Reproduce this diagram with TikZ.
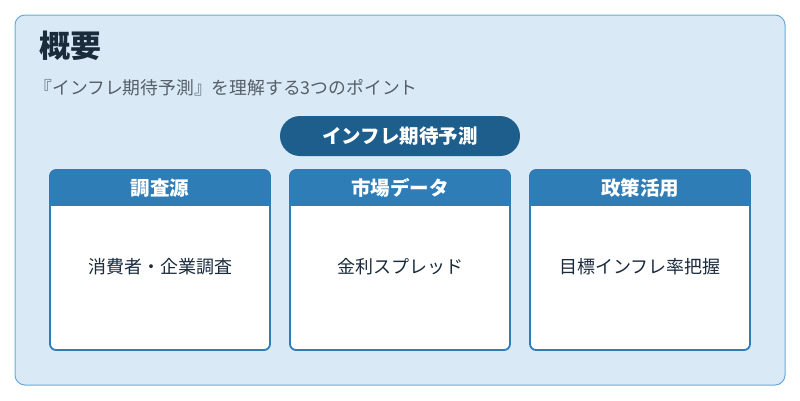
\documentclass[tikz,border=0pt]{standalone}
\usepackage{fontspec}
\setmainfont{Noto Sans CJK JP}
\definecolor{bgc}{HTML}{D9EAF6}
\definecolor{bdc}{HTML}{6AAAD6}
\definecolor{pillc}{HTML}{1D5E8C}
\definecolor{hdc}{HTML}{2E7DB6}
\definecolor{ttl}{HTML}{1A2B3C}
\definecolor{sub}{HTML}{555F6A}
\tikzset{
  cardbody/.style={draw=hdc,line width=1.8pt,fill=white,rounded corners=6pt},
  hdtext/.style={text=white,font=\bfseries\fontsize{19.5}{22}\selectfont},
  bodytext/.style={text=ttl,font=\fontsize{18}{21}\selectfont}
}
\begin{document}
\begin{tikzpicture}[x=1pt,y=-1pt]
\useasboundingbox (0,0) rectangle (800,400);
\fill[white] (0,0) rectangle (800,400);
\draw[draw=bdc,fill=bgc,line width=1pt,rounded corners=10pt] (15,15) rectangle (785,385);
\node[anchor=west,text=ttl,font=\bfseries\fontsize{31}{36}\selectfont] (title) at (36,46) {概要};
\node[anchor=west,text=sub,font=\fontsize{17.8}{21}\selectfont] (subtitle) at (31,88) {『インフレ期待予測』を理解する3つのポイント};
\fill[pillc,rounded corners=20pt] (280,116) rectangle (520,156);
\node[text=white,font=\bfseries\fontsize{19.5}{22}\selectfont] (pill) at (400,136) {インフレ期待予測};
\foreach \x/\h/\b/\n in {50/調査源/消費者・企業調査/a,290/市場データ/金利スプレッド/b,530/政策活用/目標インフレ率把握/c}{
  \draw[cardbody] (\x,170) rectangle (\x+220,350);
  \begin{scope}
    \clip[rounded corners=6pt] (\x,170) rectangle (\x+220,350);
    \fill[hdc] (\x,170) rectangle (\x+220,206);
  \end{scope}
  \node[hdtext] (h\n) at (\x+110,188) {\h};
  \node[bodytext] (b\n) at (\x+110,267) {\b};
}
\end{tikzpicture}
\end{document}
